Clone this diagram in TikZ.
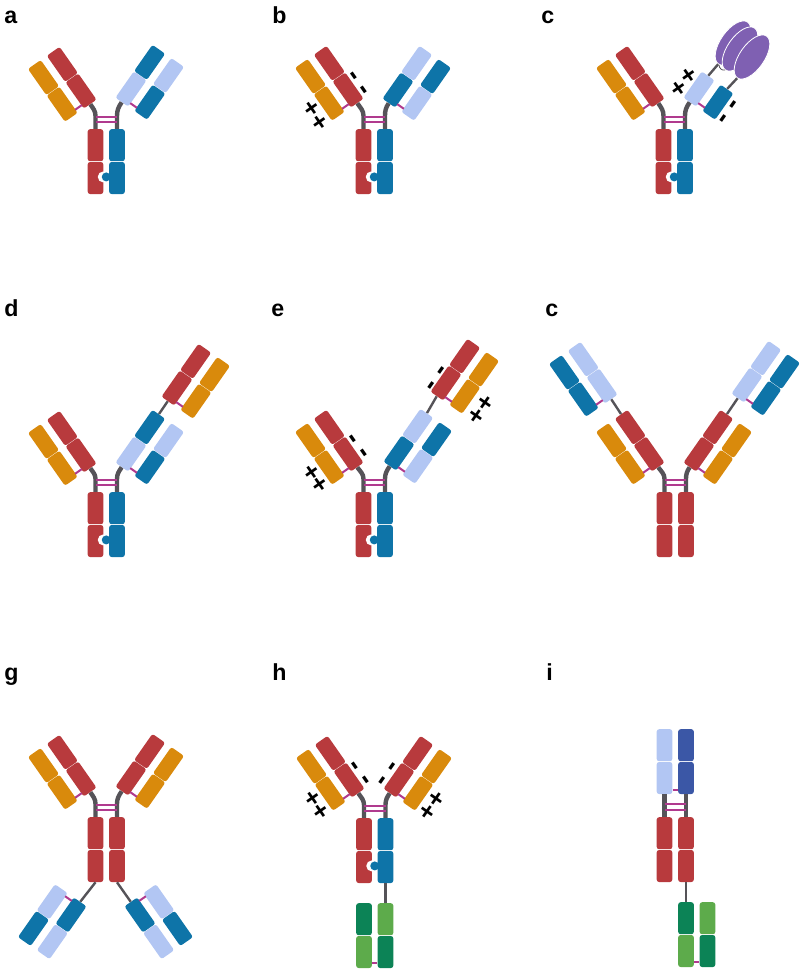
\documentclass[tikz,border=0pt]{standalone}
\usepackage{fontspec}
\setmainfont{Liberation Sans}
\usepackage{tikz}
\usetikzlibrary{calc, shapes.geometric}
\definecolor{heavyred}{HTML}{B83A3D}
\definecolor{lightorange}{HTML}{D98A0C}
\definecolor{deepblue}{HTML}{0E74A8}
\definecolor{paleblue}{HTML}{B2C6F3}
\definecolor{navyblue}{HTML}{3B57A6}
\definecolor{deepgreen}{HTML}{0C8356}
\definecolor{leafgreen}{HTML}{5DAB4B}
\definecolor{linkgray}{HTML}{555358}
\definecolor{bondpink}{HTML}{B03A8E}
\definecolor{antigen}{HTML}{7F60B2}
\tikzset{
	fabdomain/.style={rectangle, rounded corners=0.6mm, draw=none, inner sep=0, minimum width=8mm, minimum height=3.9mm},
	fcdomain/.style={rectangle, rounded corners=0.6mm, draw=none, inner sep=0, minimum width=3.9mm, minimum height=8mm},
	hingeline/.style={linkgray, line width=1.1mm},
	linker/.style={linkgray, line width=0.6mm},
	bond/.style={bondpink, line width=0.5mm},
	panellabel/.style={anchor=base west, inner sep=0, font=\fontsize{16.5}{16.5}\selectfont\bfseries},
	pluscharge/.style={inner sep=0, text height=12.6pt, text depth=0pt, font=\fontsize{18}{18}\selectfont\bfseries},
	minuscharge/.style={inner sep=0, text height=10.8pt, text depth=0pt, font=\fontsize{20}{20}\selectfont\bfseries},
	lobe/.style={ellipse, draw=white, line width=0.2mm, fill=antigen, inner sep=0, minimum width=12.75mm, minimum height=6.2mm, rotate=55}
}
% name, centre of inner lower domain, angle, side, inner and outer lower colours
\newcommand{\fablow}[6]{
	\begin{scope}[shift={(#2)}, rotate=#3, transform shape]
		\node[fabdomain, fill=#5] (#1-h) at (0,0) {};
		\node[fabdomain, fill=#6] (#1-l) at (0,{#4*23}) {};
		\coordinate (#1-p) at (-12,{#4*7.5});
		\coordinate (#1-q) at (-12,{#4*15.5});
		\draw[bond] (#1-p) -- (#1-q);
	\end{scope}
}
% same, with the two upper domains as well
\newcommand{\fab}[8]{
	\fablow{#1}{#2}{#3}{#4}{#5}{#7}
	\begin{scope}[shift={(#2)}, rotate=#3, transform shape]
		\node[fabdomain, fill=#6] (#1-u) at (32.5,0) {};
		\node[fabdomain, fill=#8] (#1-v) at (32.5,{#4*23}) {};
	\end{scope}
}
% name, top centre, then top left, top right, bottom left, bottom right colours
\newcommand{\fcpair}[6]{
	\begin{scope}[shift={(#2)}]
		\node[fcdomain, fill=#3] (#1-tl) at (-10.5,-16.2) {};
		\node[fcdomain, fill=#4] (#1-tr) at (11,-16.2) {};
		\node[fcdomain, fill=#5] (#1-bl) at (-10.5,-49) {};
		\node[fcdomain, fill=#6] (#1-br) at (11,-49) {};
	\end{scope}
}
% knob in hole on a pair
\newcommand{\knob}[1]{
	\fill[white] ($(#1-tl.north)!0.5!(#1-tr.north)+(-3,-48)$) circle (5.5);
	\fill[deepblue] ($(#1-tl.north)!0.5!(#1-tr.north)+(0,-48)$) circle (4.5);
}
% hinge up to two arms
\newcommand{\hinge}[3]{
	\draw[hingeline] (#1-tl.north) -- ++(0,13) to[out=90, in=305] (#2-h.west);
	\draw[hingeline] (#1-tr.north) -- ++(0,13) to[out=90, in=235] (#3-h.west);
	\draw[bond] ($(#1-tl.north)+(0,12)$) -- ($(#1-tr.north)+(0,12)$);
	\draw[bond] ($(#1-tl.north)+(0,6.5)$) -- ($(#1-tr.north)+(0,6.5)$);
}
\begin{document}
\begin{tikzpicture}[x=0.25mm, y=0.25mm]
	\useasboundingbox (0,0) rectangle (800,-971);
	\node[panellabel] (la) at (4,-23) {a};
	\node[panellabel] (lb) at (272,-23) {b};
	\node[panellabel] (lc) at (541,-23) {c};
	\node[panellabel] (ld) at (4,-316) {d};
	\node[panellabel] (le) at (271,-316) {e};
	\node[panellabel] (lf) at (545,-316) {c};
	\node[panellabel] (lg) at (4,-680) {g};
	\node[panellabel] (lh) at (272,-680) {h};
	\node[panellabel] (li) at (546,-680) {i};

	% panel a
	\fab{aL}{81,-91}{125}{1}{heavyred}{heavyred}{lightorange}{lightorange}
	\fab{aR}{131,-89}{55}{-1}{paleblue}{deepblue}{deepblue}{paleblue}
	\fcpair{a}{106,-129}{heavyred}{deepblue}{heavyred}{deepblue}
	\knob{a}
	\hinge{a}{aL}{aR}

	% panel b
	\fab{bL}{348,-90}{125}{1}{heavyred}{heavyred}{lightorange}{lightorange}
	\fab{bR}{398,-90}{55}{-1}{deepblue}{paleblue}{paleblue}{deepblue}
	\fcpair{b}{374,-129}{heavyred}{deepblue}{heavyred}{deepblue}
	\knob{b}
	\hinge{b}{bL}{bR}
	\node[minuscharge, rotate=125] (bm1) at (354,-76) {-};
	\node[minuscharge, rotate=125] (bm2) at (364,-90) {-};
	\node[pluscharge, rotate=35] (bp1) at (311,-108) {+};
	\node[pluscharge, rotate=35] (bp2) at (319,-122) {+};

	% panel c, with bound antigen
	\fab{cL}{649,-90}{125}{1}{heavyred}{heavyred}{lightorange}{lightorange}
	\fablow{cR}{699,-89}{55}{-1}{paleblue}{deepblue}
	\fcpair{c}{674,-129}{heavyred}{deepblue}{heavyred}{deepblue}
	\knob{c}
	\hinge{c}{cL}{cR}
	\node[lobe] (cg1) at (733,-43) {};
	\node[lobe] (cg2) at (740,-49) {};
	\node[lobe] (cg3) at (752,-57) {};
	\draw[linker] (cR-h.east) -- (cg1.west);
	\draw[linker] (cR-l.east) -- (cg3.west);
	\draw[linkgray, line width=0.2mm] (719,-65) to[out=270, in=200] (725,-70);
	\node[pluscharge, rotate=35] (cp1) at (678,-88) {+};
	\node[pluscharge, rotate=35] (cp2) at (688,-75) {+};
	\node[minuscharge, rotate=55] (cm1) at (733,-104) {-};
	\node[minuscharge, rotate=55] (cm2) at (723,-118) {-};

	% panel d
	\fab{dL}{81,-455}{125}{1}{heavyred}{heavyred}{lightorange}{lightorange}
	\fab{dR}{131,-454}{55}{-1}{paleblue}{deepblue}{deepblue}{paleblue}
	\fab{dX}{177,-388}{55}{-1}{heavyred}{heavyred}{lightorange}{lightorange}
	\fcpair{d}{106,-492}{heavyred}{deepblue}{heavyred}{deepblue}
	\knob{d}
	\hinge{d}{dL}{dR}
	\draw[linker] (dR-u.east) -- (dX-h.west);

	% panel e
	\fab{eL}{348,-454}{125}{1}{heavyred}{heavyred}{lightorange}{lightorange}
	\fab{eR}{399,-453}{55}{-1}{deepblue}{paleblue}{paleblue}{deepblue}
	\fab{eX}{446,-383}{55}{-1}{heavyred}{heavyred}{lightorange}{lightorange}
	\fcpair{e}{374,-492}{heavyred}{deepblue}{heavyred}{deepblue}
	\knob{e}
	\hinge{e}{eL}{eR}
	\draw[linker] (eR-u.east) -- (eX-h.west);
	\node[minuscharge, rotate=125] (em1) at (353,-439) {-};
	\node[minuscharge, rotate=125] (em2) at (364,-453) {-};
	\node[minuscharge, rotate=55] (em3) at (441,-370) {-};
	\node[minuscharge, rotate=55] (em4) at (431,-385) {-};
	\node[pluscharge, rotate=35] (ep1) at (311,-472) {+};
	\node[pluscharge, rotate=35] (ep2) at (319,-484) {+};
	\node[pluscharge, rotate=-35] (ep3) at (486,-402) {+};
	\node[pluscharge, rotate=-35] (ep4) at (477,-415) {+};

	% panel f
	\fab{fL}{649,-454}{125}{1}{heavyred}{heavyred}{lightorange}{lightorange}
	\fab{fR}{699,-454}{55}{-1}{heavyred}{heavyred}{lightorange}{lightorange}
	\fab{fU}{602,-386}{125}{1}{paleblue}{paleblue}{deepblue}{deepblue}
	\fab{fV}{747,-385}{55}{-1}{paleblue}{paleblue}{deepblue}{deepblue}
	\fcpair{f}{675,-492}{heavyred}{heavyred}{heavyred}{heavyred}
	\hinge{f}{fL}{fR}
	\draw[linker] (fL-u.east) -- (fU-h.west);
	\draw[linker] (fR-u.east) -- (fV-h.west);

	% panel g
	\fab{gL}{81,-779}{125}{1}{heavyred}{heavyred}{lightorange}{lightorange}
	\fab{gR}{131,-778}{55}{-1}{heavyred}{heavyred}{lightorange}{lightorange}
	\fab{gU}{71,-915}{235}{-1}{deepblue}{paleblue}{paleblue}{deepblue}
	\fab{gV}{140,-915}{305}{1}{deepblue}{paleblue}{paleblue}{deepblue}
	\fcpair{g}{106,-817}{heavyred}{heavyred}{heavyred}{heavyred}
	\hinge{g}{gL}{gR}
	\draw[linker] (g-bl.south) -- (gU-h.west);
	\draw[linker] (g-br.south) -- (gV-h.west);

	% panel h
	\fab{hL}{349,-780}{125}{1}{heavyred}{heavyred}{lightorange}{lightorange}
	\fab{hR}{399,-780}{55}{-1}{heavyred}{heavyred}{lightorange}{lightorange}
	\fcpair{h}{374.5,-818}{heavyred}{deepblue}{heavyred}{deepblue}
	\knob{h}
	\hinge{h}{hL}{hR}
	\fcpair{hg}{374.5,-903}{deepgreen}{leafgreen}{leafgreen}{deepgreen}
	\draw[linker] (h-br.south) -- (hg-tr.north);
	\draw[bond] ($(hg-bl.east)+(0,-11)$) -- ($(hg-br.west)+(0,-11)$);
	\node[minuscharge, rotate=125] (hm1) at (355,-766) {-};
	\node[minuscharge, rotate=125] (hm2) at (366,-780) {-};
	\node[minuscharge, rotate=55] (hm3) at (392,-766) {-};
	\node[minuscharge, rotate=55] (hm4) at (382,-780) {-};
	\node[pluscharge, rotate=35] (hp1) at (312,-798) {+};
	\node[pluscharge, rotate=35] (hp2) at (320,-811) {+};
	\node[pluscharge, rotate=-35] (hp3) at (437,-798) {+};
	\node[pluscharge, rotate=-35] (hp4) at (428,-811) {+};

	% panel i
	\fcpair{i}{675,-817}{heavyred}{heavyred}{heavyred}{heavyred}
	\fcpair{iu}{675,-729}{paleblue}{navyblue}{paleblue}{navyblue}
	\fcpair{ig}{696.5,-902}{deepgreen}{leafgreen}{leafgreen}{deepgreen}
	\draw[hingeline] (iu-bl.south) -- (i-tl.north);
	\draw[hingeline] (iu-br.south) -- (i-tr.north);
	\draw[bond] ($(i-tl.north)+(0,13)$) -- ($(i-tr.north)+(0,13)$);
	\draw[bond] ($(i-tl.north)+(0,6.5)$) -- ($(i-tr.north)+(0,6.5)$);
	\draw[bond] ($(iu-bl.east)+(0,-12)$) -- ($(iu-br.west)+(0,-12)$);
	\draw[linker] (i-br.south) -- (ig-tl.north);
	\draw[bond] ($(ig-bl.east)+(0,-11)$) -- ($(ig-br.west)+(0,-11)$);
\end{tikzpicture}
\end{document}
